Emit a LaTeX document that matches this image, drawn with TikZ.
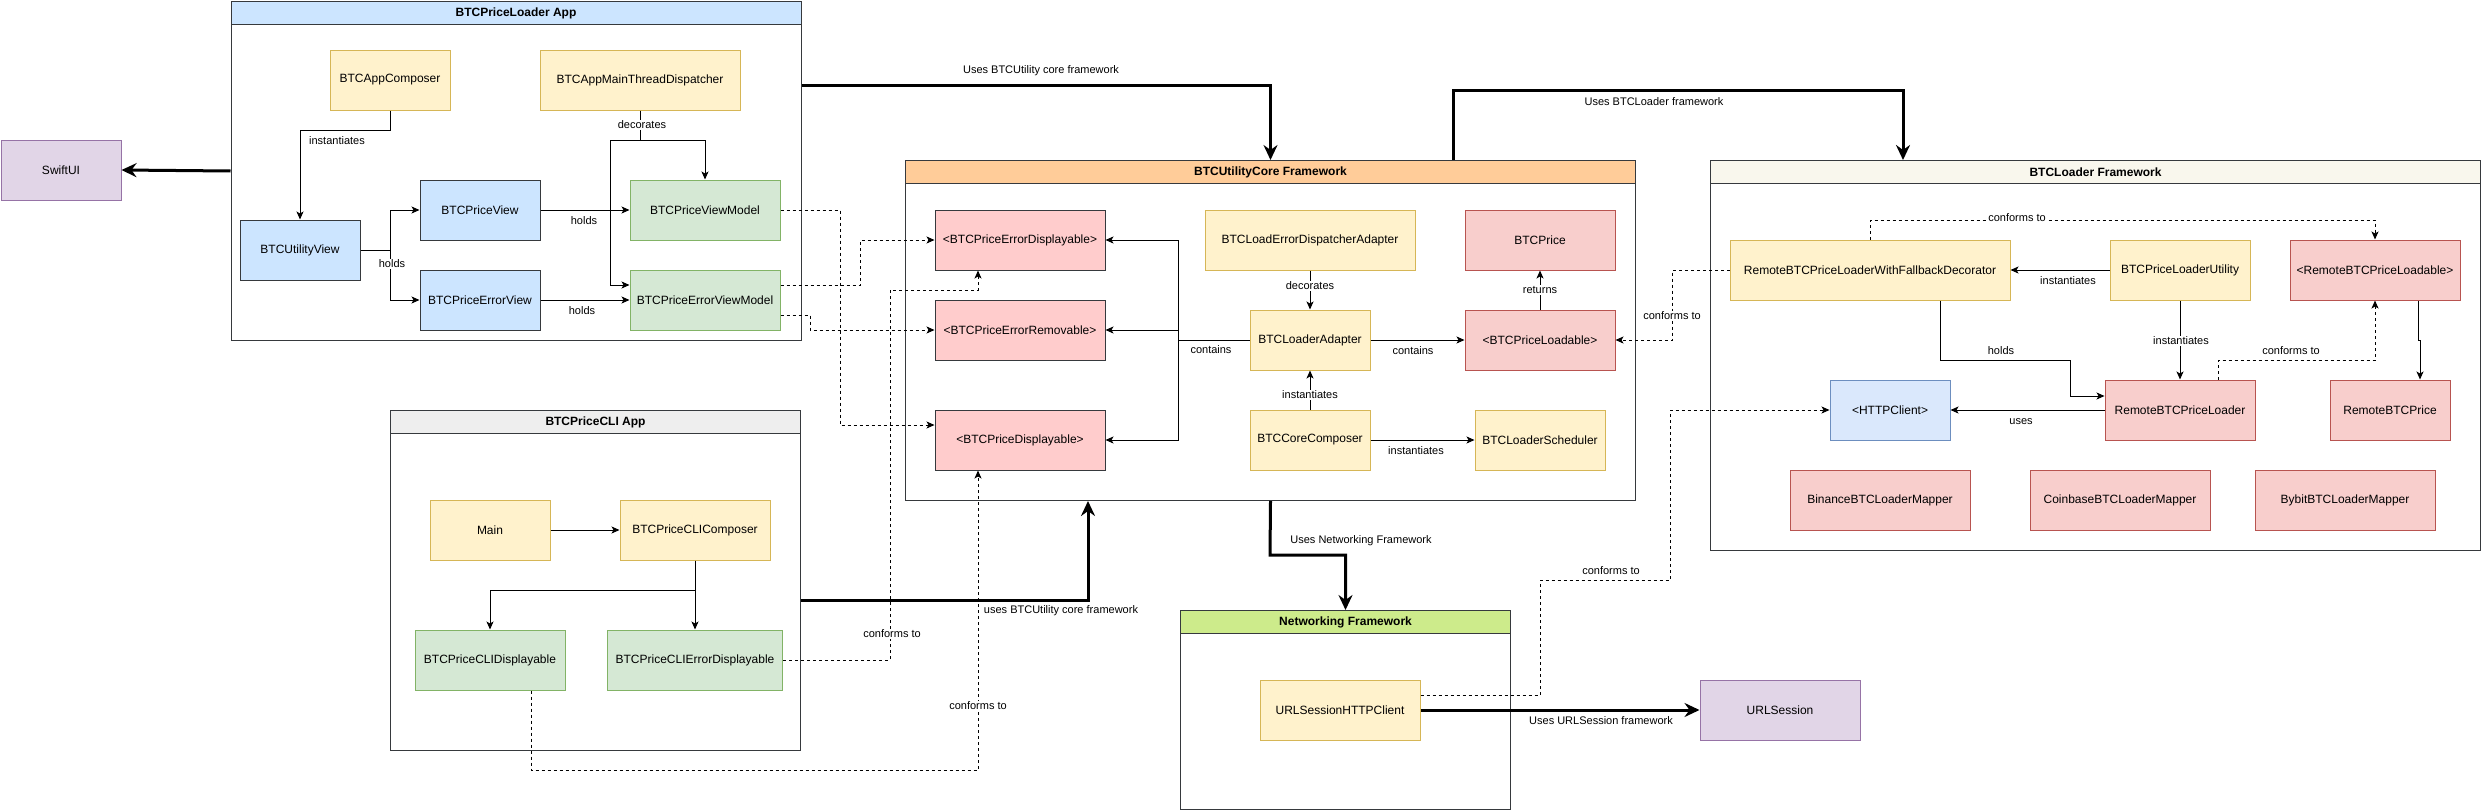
\documentclass[tikz,border=0pt]{standalone}
\usepackage{fontspec}
\setmainfont{Liberation Sans}
\usetikzlibrary{arrows.meta}
\definecolor{yf}{HTML}{FFF2CC}\definecolor{ys}{HTML}{D6B656}
\definecolor{gf}{HTML}{D5E8D4}\definecolor{gs}{HTML}{82B366}
\definecolor{bf}{HTML}{CCE5FF}\definecolor{dk}{HTML}{36393D}
\definecolor{hf}{HTML}{DAE8FC}\definecolor{hs}{HTML}{6C8EBF}
\definecolor{rf}{HTML}{FFCCCC}
\definecolor{qf}{HTML}{F8CECC}\definecolor{qs}{HTML}{B85450}
\definecolor{pf}{HTML}{E1D5E7}\definecolor{ps}{HTML}{9673A6}
\definecolor{hApp}{HTML}{CCE5FF}\definecolor{hCore}{HTML}{FFCC99}
\definecolor{hLoad}{HTML}{F9F7ED}\definecolor{hCli}{HTML}{EEEEEE}
\definecolor{hNet}{HTML}{CDEB8B}
\begin{document}
\begin{tikzpicture}[x=1pt,y=-1pt,
  bx/.style={draw, line width=1pt, inner sep=2pt, font=\fontsize{12}{14}\selectfont, minimum height=60pt, align=center},
  ybox/.style={bx, fill=yf, draw=ys},
  gbox/.style={bx, fill=gf, draw=gs},
  bbox/.style={bx, fill=bf, draw=dk},
  hbox/.style={bx, fill=hf, draw=hs},
  rbox/.style={bx, fill=rf, draw=dk},
  qbox/.style={bx, fill=qf, draw=qs},
  pbox/.style={bx, fill=pf, draw=ps},
  cont/.style={draw=dk, line width=1pt, fill=white, anchor=north west, inner sep=0pt},
  hdr/.style={draw=dk, line width=1pt, anchor=north west, minimum height=23pt, inner sep=0pt, font=\bfseries\fontsize{12}{14}\selectfont},
  lbl/.style={font=\fontsize{11}{13}\selectfont, fill=white, inner sep=1pt},
  ar/.style={line width=1pt, -{Stealth[length=8pt,width=7pt,inset=2pt]}},
  da/.style={ar, dash pattern=on 3pt off 3pt},
  tk/.style={line width=3pt, -{Stealth[length=15pt,width=14pt,inset=5pt]}},
  tkl/.style={line width=3pt}
]
\fill[white] (0,0) rectangle (2481,811);
\useasboundingbox (0,0) rectangle (2481,811);

% containers
\node[cont, minimum width=570pt, minimum height=339pt] (app) at (230.5,1) {};
\node[hdr, fill=hApp, minimum width=570pt] (appH) at (230.5,1) {BTCPriceLoader App};
\node[cont, minimum width=730pt, minimum height=340pt] (core) at (905,160) {};
\node[hdr, fill=hCore, minimum width=730pt] (coreH) at (905,160) {BTCUtilityCore Framework};
\node[cont, minimum width=770pt, minimum height=390pt] (loader) at (1710,160) {};
\node[hdr, fill=hLoad, minimum width=770pt] (loaderH) at (1710,160) {BTCLoader Framework};
\node[cont, minimum width=410pt, minimum height=340pt] (cli) at (390,410) {};
\node[hdr, fill=hCli, minimum width=410pt] (cliH) at (390,410) {BTCPriceCLI App};
\node[cont, minimum width=330pt, minimum height=199pt] (net) at (1180,610) {};
\node[hdr, fill=hNet, minimum width=330pt] (netH) at (1180,610) {Networking Framework};

% outer boxes
\node[pbox, minimum width=120pt] (swift) at (61,170) {SwiftUI};
\node[pbox, minimum width=160pt] (urls) at (1780,710) {URLSession};

% app
\node[ybox, minimum width=120pt] (appcomp) at (390,80) {BTCAppComposer};
\node[ybox, minimum width=200pt] (mtd) at (640,80) {BTCAppMainThreadDispatcher};
\node[bbox, minimum width=120pt] (utilview) at (300,250) {BTCUtilityView};
\node[bbox, minimum width=120pt] (pview) at (480,210) {BTCPriceView};
\node[bbox, minimum width=120pt] (perrview) at (480,300) {BTCPriceErrorView};
\node[gbox, minimum width=150pt] (vm) at (705,210) {BTCPriceViewModel};
\node[gbox, minimum width=150pt] (errvm) at (705,300) {BTCPriceErrorViewModel};

% core
\node[rbox, minimum width=170pt] (errdisp) at (1020,240) {<BTCPriceErrorDisplayable>};
\node[rbox, minimum width=170pt] (errrem) at (1020,330) {<BTCPriceErrorRemovable>};
\node[rbox, minimum width=170pt] (disp) at (1020,440) {<BTCPriceDisplayable>};
\node[ybox, minimum width=210pt] (ledisp) at (1310,240) {BTCLoadErrorDispatcherAdapter};
\node[qbox, minimum width=150pt] (btcprice) at (1540,240) {BTCPrice};
\node[ybox, minimum width=120pt] (adapter) at (1310,340) {BTCLoaderAdapter};
\node[qbox, minimum width=150pt] (loadable) at (1540,340) {<BTCPriceLoadable>};
\node[ybox, minimum width=120pt] (corecomp) at (1310,440) {BTCCoreComposer};
\node[ybox, minimum width=130pt] (sched) at (1540,440) {BTCLoaderScheduler};

% loader
\node[ybox, minimum width=280pt] (deco) at (1870,270) {RemoteBTCPriceLoaderWithFallbackDecorator};
\node[ybox, minimum width=140pt] (lutil) at (2180,270) {BTCPriceLoaderUtility};
\node[qbox, minimum width=170pt] (rloadable) at (2375,270) {<RemoteBTCPriceLoadable>};
\node[hbox, minimum width=120pt] (http) at (1890,410) {<HTTPClient>};
\node[qbox, minimum width=150pt] (rloader) at (2180,410) {RemoteBTCPriceLoader};
\node[qbox, minimum width=120pt] (rprice) at (2390,410) {RemoteBTCPrice};
\node[qbox, minimum width=180pt] (binance) at (1880,500) {BinanceBTCLoaderMapper};
\node[qbox, minimum width=180pt] (coinbase) at (2120,500) {CoinbaseBTCLoaderMapper};
\node[qbox, minimum width=180pt] (bybit) at (2345,500) {BybitBTCLoaderMapper};

% cli
\node[ybox, minimum width=120pt] (main) at (490,530) {Main};
\node[ybox, minimum width=150pt] (clicomp) at (695,530) {BTCPriceCLIComposer};
\node[gbox, minimum width=150pt] (clidisp) at (490,660) {BTCPriceCLIDisplayable};
\node[gbox, minimum width=175pt] (clierr) at (695,660) {BTCPriceCLIErrorDisplayable};

% net
\node[ybox, minimum width=160pt] (urlhc) at (1340,710) {URLSessionHTTPClient};

% thick edges
\draw[tk] (app.west) -- (swift.east);
\draw[tk] (app.east |- 0,85) -| (core.north);
\draw[tk] (core.north -| 1453,0) |- (1903,90) -- (loader.north -| 1903,0);
\draw[tk] (core.south) -- (1270,555) -| (net.north);
\draw[tk] (cli.east |- 0,600) -| (core.south -| 1088,0);
\draw[tk] (urlhc.east) -- (urls.west);

% app edges
\draw[ar] (appcomp.south) -- (390,130) -| (utilview.north);
\draw[ar] (mtd.south) -- (640,140) -- (610,140) |- (errvm.west |- 0,285);
\draw[ar] (mtd.south) -- (640,140) -| (vm.north);
\draw[ar] (utilview.east) -- (390,250) |- (pview.west);
\draw[ar] (utilview.east) -- (390,250) |- (perrview.west);
\draw[ar] (pview.east) -- (vm.west);
\draw[ar] (perrview.east) -- (errvm.west);

% app -> core dashed
\draw[da] (vm.east) -- (840,210) |- (disp.west |- 0,425);
\draw[da] (errvm.east |- 0,285) -- (860,285) |- (errdisp.west);
\draw[da] (errvm.east |- 0,315) -- (810,315) |- (errrem.west);

% core edges
\draw[ar] (adapter.west) -- (1178,340) |- (errdisp.east);
\draw[ar] (adapter.west) -- (1178,340) |- (errrem.east);
\draw[ar] (adapter.west) -- (1178,340) |- (disp.east);
\draw[ar] (adapter.east) -- (loadable.west);
\draw[ar] (ledisp.south) -- (adapter.north);
\draw[ar] (loadable.north) -- (btcprice.south);
\draw[ar] (corecomp.north) -- (adapter.south);
\draw[ar] (corecomp.east) -- (sched.west);

% cli edges
\draw[ar] (main.east) -- (clicomp.west);
\draw[ar] (clicomp.south) -- (clierr.north);
\draw[ar] (clicomp.south) -- (695,590) -| (clidisp.north);
\draw[da] (clierr.east) -- (890,660) |- (978,290) -- (errdisp.south -| 978,0);
\draw[da] (clidisp.south -| 531,0) |- (978,770) -- (disp.south -| 978,0);

% loader edges
\draw[ar] (lutil.west) -- (deco.east);
\draw[ar] (lutil.south) -- (rloader.north);
\draw[ar] (deco.south -| 1940,0) |- (2070,360) |- (rloader.west |- 0,396);
\draw[ar] (rloader.west) -- (http.east);
\draw[ar] (rloadable.south -| 2418,0) -- (2418,340) -- (2420,340) -- (rprice.north -| 2420,0);
\draw[da] (deco.north) |- (2375,220) -- (rloadable.north);
\draw[da] (rloader.north -| 2218,0) |- (2375,360) -- (rloadable.south);
\draw[da] (deco.west) -- (1672,270) |- (loadable.east);
\draw[da] (urlhc.east |- 0,695) -- (1540,695) |- (1670,580) |- (http.west);

% labels
\node[lbl] (l1) at (337,141) {instantiates};
\node[lbl] (l2) at (642,125) {decorates};
\node[lbl] (l3) at (392,264) {holds};
\node[lbl] (l4) at (584,221) {holds};
\node[lbl] (l5) at (582,311) {holds};
\node[lbl] (l6) at (1041,71) {Uses BTCUtility core framework};
\node[lbl] (l7) at (1654,102) {Uses BTCLoader framework};
\node[lbl] (l8) at (1211,350) {contains};
\node[lbl] (l9) at (1413,351) {contains};
\node[lbl] (l10) at (1310,286) {decorates};
\node[lbl] (l11) at (1540,290) {returns};
\node[lbl] (l12) at (1310,395) {instantiates};
\node[lbl] (l13) at (1416,451) {instantiates};
\node[lbl] (l14) at (2017,218) {conforms to};
\node[lbl] (l15) at (2068,281) {instantiates};
\node[lbl] (l16) at (2181,341) {instantiates};
\node[lbl] (l17) at (2001,351) {holds};
\node[lbl] (l18) at (2291,351) {conforms to};
\node[lbl] (l19) at (2021,422) {uses};
\node[lbl] (l20) at (1672,316) {conforms to};
\node[lbl] (l21) at (1611,571) {conforms to};
\node[lbl] (l22) at (1361,541) {Uses Networking Framework};
\node[lbl] (l23) at (1601,721) {Uses URLSession framework};
\node[lbl] (l24) at (1061,611) {uses BTCUtility core framework};
\node[lbl] (l25) at (892,634) {conforms to};
\node[lbl] (l26) at (978,706) {conforms to};
\end{tikzpicture}
\end{document}
